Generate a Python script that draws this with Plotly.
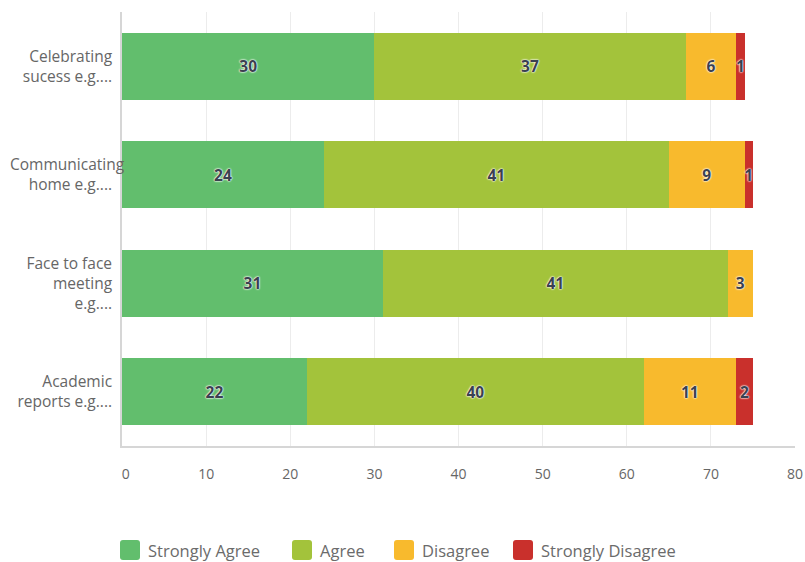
import plotly.graph_objects as go

# Survey responses per communication type
categories = [
    "Celebrating sucess e.g....",
    "Communicating home e.g....",
    "Face to face meeting e.g....",
    "Academic reports e.g....",
]
# multi-line tick labels; trailing no-break spaces keep short lines clear of the axis
PAD = "\u00a0\u00a0\u00a0"
tick_labels = [
    f"Celebrating{PAD}<br>sucess e.g....{PAD}",
    f"Communicating<br>home e.g....{PAD}",
    f"Face to face{PAD}<br>meeting{PAD}<br>e.g....{PAD}",
    f"Academic{PAD}<br>reports e.g....{PAD}",
]

series_names = ["Strongly Agree", "Agree", "Disagree", "Strongly Disagree"]
strongly_agree = [30, 24, 31, 22]
agree = [37, 41, 41, 40]
disagree = [6, 9, 3, 11]
strongly_disagree = [1, 1, 0, 2]
series_values = [strongly_agree, agree, disagree, strongly_disagree]
series_colors = ["#62be6d", "#a3c33b", "#f8ba2d", "#c9302c"]

x_ticks = [0, 10, 20, 30, 40, 50, 60, 70, 80]
x_tick_text = ["\u00a0\u00a00", "10", "20", "30", "40", "50", "60", "70", "80"]

FONT = "Open Sans, Noto Sans, sans-serif"
W, H = 805, 562
M = dict(l=122, r=10, t=12, b=116)

fig = go.Figure()
for name, vals, col in zip(series_names, series_values, series_colors):
    fig.add_trace(go.Bar(
        name=name,
        y=categories,
        x=vals,
        orientation="h",
        marker=dict(color=col, line=dict(width=0)),
        text=[str(v) if v > 0 else "" for v in vals],
        textposition="inside",
        insidetextanchor="middle",
        textangle=0,
        constraintext="none",
        textfont=dict(family=FONT, size=15.5, color="#3b4150", weight="bold",
                      shadow="0px 0px 2px #ffffff, 0px 0px 2px #ffffff, 0px 0px 1px #ffffff"),
        showlegend=False,
        hoverinfo="skip",
    ))

# Legend drawn as swatches + labels below the plot
pw = W - M["l"] - M["r"]
ph = H - M["t"] - M["b"]

def px_to_paper_x(px):
    return (px - M["l"]) / pw

def px_to_paper_y(py):
    return (H - M["b"] - py) / ph

legend_swatch_left = [120, 292, 394, 513]
legend_y = 550
sw = 20
r = 3
shapes = []
annotations = []
for name, col, left in zip(series_names, series_colors, legend_swatch_left):
    x0, x1 = px_to_paper_x(left), px_to_paper_x(left + sw)
    y0, y1 = px_to_paper_y(legend_y + sw / 2), px_to_paper_y(legend_y - sw / 2)
    rx = r / pw
    ry = r / ph
    path = (f"M{x0+rx},{y0} L{x1-rx},{y0} Q{x1},{y0} {x1},{y0+ry} "
            f"L{x1},{y1-ry} Q{x1},{y1} {x1-rx},{y1} L{x0+rx},{y1} "
            f"Q{x0},{y1} {x0},{y1-ry} L{x0},{y0+ry} Q{x0},{y0} {x0+rx},{y0} Z")
    shapes.append(dict(type="path", xref="paper", yref="paper", path=path,
                       fillcolor=col, line=dict(width=0)))
    annotations.append(dict(
        xref="paper", yref="paper",
        x=px_to_paper_x(left + sw + 6), y=px_to_paper_y(legend_y),
        xanchor="left", yanchor="middle", showarrow=False,
        text=name, font=dict(family=FONT, size=16.5, color="#6b6b6b"),
    ))

fig.update_layout(
    barmode="stack",
    bargap=0.38,
    width=W, height=H,
    margin=dict(M, autoexpand=False),
    paper_bgcolor="white",
    plot_bgcolor="white",
    font=dict(family=FONT, color="#666666"),
    shapes=shapes,
    annotations=annotations,
    xaxis=dict(
        range=[0, 80],
        tickvals=x_ticks,
        ticktext=x_tick_text,
        showgrid=True,
        gridcolor="#ececec",
        gridwidth=1,
        zeroline=False,
        showline=True,
        linecolor="#d6d6d6",
        linewidth=1.5,
        ticks="",
        ticklabelstandoff=14,
        ticklabeloverflow="allow",
        automargin=False,
        tickfont=dict(family=FONT, size=14, color="#666666"),
        fixedrange=True,
    ),
    yaxis=dict(
        autorange="reversed",
        tickvals=categories,
        ticktext=tick_labels,
        showline=True,
        linecolor="#d6d6d6",
        linewidth=1.5,
        showgrid=False,
        ticks="",
        ticklabelstandoff=-7,
        automargin=False,
        tickfont=dict(family=FONT, size=15.5, color="#666666"),
        fixedrange=True,
    ),
)

fig.write_html("out.html")
